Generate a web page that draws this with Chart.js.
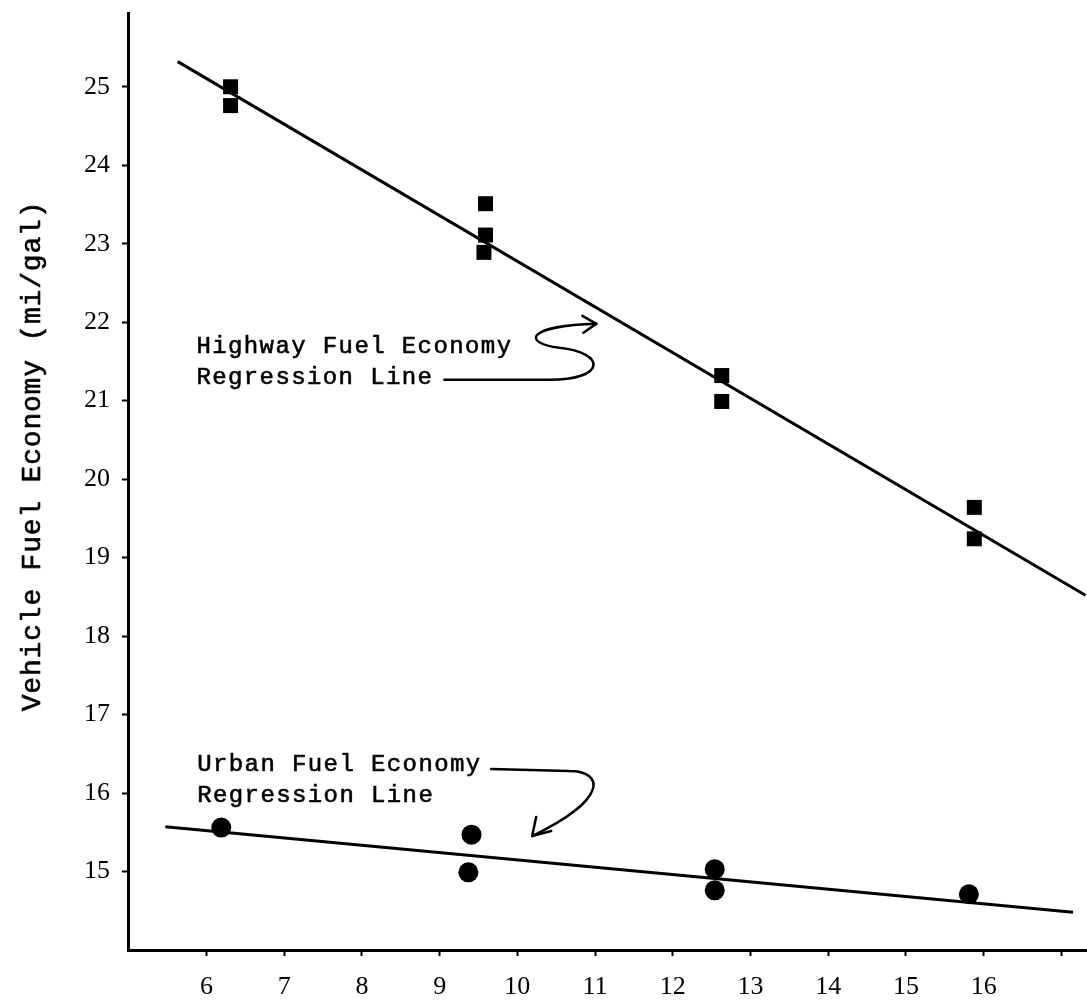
<!DOCTYPE html>
<html>
<head>
<meta charset="utf-8">
<title>Vehicle Fuel Economy</title>
<script src="https://cdn.jsdelivr.net/npm/chart.js@4.4.1/dist/chart.umd.min.js"></script>
<style>
  html, body { margin: 0; padding: 0; background: #fff; }
  #wrap { width: 1087px; height: 1002px; }
</style>
</head>
<body>
<div id="wrap"><canvas id="fuelChart" width="1087" height="1002"></canvas></div>
<script>
// === DATA ===
const xTicks = [6, 7, 8, 9, 10, 11, 12, 13, 14, 15, 16, 17];
const yTicks = [15, 16, 17, 18, 19, 20, 21, 22, 23, 24, 25];

const highwayX = [6.31, 6.31, 9.59, 9.59, 9.57, 12.63, 12.63, 15.88, 15.88];
const highwayY = [25.0, 24.76, 23.51, 23.11, 22.89, 21.32, 20.99, 19.64, 19.24];

const urbanX = [6.19, 9.41, 9.37, 12.54, 12.54, 15.81];
const urbanY = [15.56, 15.47, 14.99, 15.03, 14.76, 14.71];

const highwayLineX = [5.63, 17.31];
const highwayLineY = [25.32, 18.52];
const urbanLineX = [5.47, 17.15];
const urbanLineY = [15.57, 14.48];

const yTitle = "Vehicle Fuel Economy (mi/gal)";
const highwayNote = ["Highway Fuel Economy", "Regression Line"];
const urbanNote = ["Urban Fuel Economy", "Regression Line"];

function toPoints(xs, ys) {
    return xs.map((x, i) => ({ x: x, y: ys[i] }));
}

// typewriter look: fill plus a thin outline
function inkText(ctx, txt, x, y) {
    ctx.fillText(txt, x, y);
    ctx.save();
    ctx.lineWidth = 0.6;
    ctx.strokeText(txt, x, y);
    ctx.restore();
}

// === ANNOTATIONS (text + hand drawn arrows) ===
const notesPlugin = {
    id: "notes",
    afterDraw(chart) {
        const ctx = chart.ctx;
        const xs = chart.scales.x;
        const ys = chart.scales.y;
        ctx.save();
        ctx.fillStyle = "#000";
        ctx.strokeStyle = "#000";
        ctx.lineWidth = 2.5;
        ctx.lineCap = "round";
        ctx.lineJoin = "round";

        // y axis title
        ctx.save();
        ctx.translate(33, 456);
        ctx.rotate(-Math.PI / 2);
        ctx.font = "28px 'Liberation Mono'";
        ctx.letterSpacing = "0.8px";
        ctx.textAlign = "center";
        ctx.textBaseline = "middle";
        inkText(ctx, yTitle, 0, 0);
        ctx.restore();

        ctx.font = "24px 'Liberation Mono'";
        ctx.letterSpacing = "1.4px";
        ctx.textAlign = "left";
        ctx.textBaseline = "alphabetic";

        // highway note
        let ax = xs.getPixelForValue(5.87);
        let ay = ys.getPixelForValue(21.61);
        inkText(ctx, highwayNote[0], ax, ay);
        inkText(ctx, highwayNote[1], ax, ay + 31);
        ctx.beginPath();
        ctx.moveTo(ax + 248, ay + 27);
        ctx.lineTo(ax + 353, ay + 27);
        ctx.bezierCurveTo(ax + 410, ay + 27, ax + 410, ay + 0, ax + 363, ay - 5);
        ctx.bezierCurveTo(ax + 325, ay - 10, ax + 330, ay - 27, ax + 400, ay - 29);
        ctx.stroke();
        ctx.beginPath();
        ctx.moveTo(ax + 386, ay - 37);
        ctx.lineTo(ax + 400, ay - 29);
        ctx.lineTo(ax + 387, ay - 20);
        ctx.stroke();

        // urban note
        ax = xs.getPixelForValue(5.88);
        ay = ys.getPixelForValue(16.28);
        inkText(ctx, urbanNote[0], ax, ay);
        inkText(ctx, urbanNote[1], ax, ay + 31);
        ctx.beginPath();
        ctx.moveTo(ax + 294, ay - 2);
        ctx.lineTo(ax + 372, ay);
        ctx.bezierCurveTo(ax + 407, ay, ax + 412, ay + 28, ax + 335, ay + 65);
        ctx.stroke();
        ctx.beginPath();
        ctx.moveTo(ax + 339, ay + 46);
        ctx.lineTo(ax + 335, ay + 65);
        ctx.lineTo(ax + 354, ay + 60);
        ctx.stroke();

        ctx.restore();
    }
};

// === CHART ===
const ctx = document.getElementById("fuelChart").getContext("2d");
const fuelChart = new Chart(ctx, {
    type: "scatter",
    data: {
        datasets: [
            {
                label: "Highway",
                data: toPoints(highwayX, highwayY),
                pointStyle: "rect",
                pointRadius: 10.6,
                backgroundColor: "#000",
                borderColor: "#000",
                borderWidth: 0
            },
            {
                label: "Urban",
                data: toPoints(urbanX, urbanY),
                pointStyle: "circle",
                pointRadius: 10,
                backgroundColor: "#000",
                borderColor: "#000",
                borderWidth: 0
            },
            {
                label: "Highway regression",
                data: toPoints(highwayLineX, highwayLineY),
                showLine: true,
                pointRadius: 0,
                borderColor: "#000",
                borderWidth: 3
            },
            {
                label: "Urban regression",
                data: toPoints(urbanLineX, urbanLineY),
                showLine: true,
                pointRadius: 0,
                borderColor: "#000",
                borderWidth: 3
            }
        ]
    },
    options: {
        responsive: false,
        animation: false,
        devicePixelRatio: 1,
        layout: { autoPadding: false, padding: { top: 13, right: 0, left: 0, bottom: 0 } },
        plugins: {
            legend: { display: false },
            tooltip: { enabled: false }
        },
        scales: {
            x: {
                type: "linear",
                min: 4.99,
                max: 17.33,
                afterBuildTicks: axis => { axis.ticks = xTicks.map(v => ({ value: v })); },
                afterFit: axis => {
                    axis.height = 52;
                    axis.paddingLeft = 0;
                    axis.paddingRight = 0;
                },
                border: { display: true, color: "#000", width: 3 },
                grid: { drawOnChartArea: false, drawTicks: true, tickLength: 6, tickWidth: 2, tickColor: "#000" },
                ticks: {
                    color: "#000",
                    padding: 16,
                    maxRotation: 0,
                    font: { family: "'Liberation Serif'", size: 26 },
                    callback: v => (v === 17 ? "" : v)
                }
            },
            y: {
                type: "linear",
                min: 14,
                max: 25.94,
                afterBuildTicks: axis => { axis.ticks = yTicks.map(v => ({ value: v })); },
                afterFit: axis => {
                    axis.width = 128;
                    axis.paddingTop = 0;
                    axis.paddingBottom = 0;
                },
                border: { display: true, color: "#000", width: 3 },
                grid: { drawOnChartArea: false, drawTicks: true, tickLength: 6, tickWidth: 2, tickColor: "#000" },
                ticks: {
                    color: "#000",
                    padding: 12,
                    font: { family: "'Liberation Serif'", size: 26 }
                }
            }
        }
    },
    plugins: [notesPlugin]
});
</script>
</body>
</html>
